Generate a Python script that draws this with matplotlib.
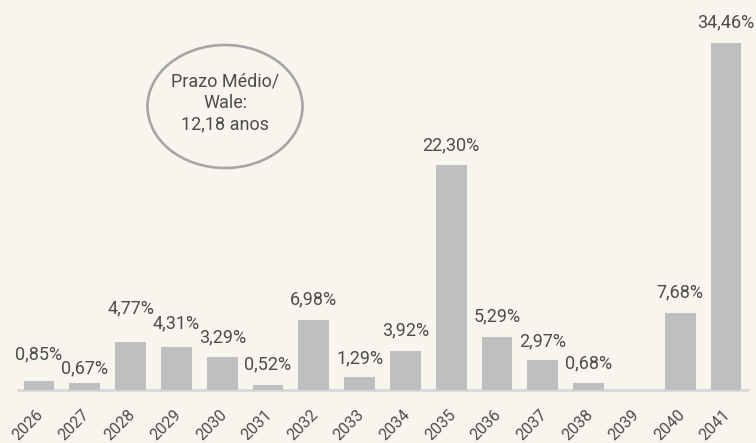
import matplotlib.pyplot as plt
from matplotlib.patches import Ellipse

# dados do gráfico
anos = ["2026", "2027", "2028", "2029", "2030", "2031", "2032", "2033",
        "2034", "2035", "2036", "2037", "2038", "2039", "2040", "2041"]
percentuais = [0.85, 0.67, 4.77, 4.31, 3.29, 0.52, 6.98, 1.29,
               3.92, 22.30, 5.29, 2.97, 0.68, 0.0, 7.68, 34.46]
texto_wale = "Prazo Médio/\nWale:\n12,18 anos"

# distância (px) entre o topo da barra e a linha de base do rótulo
afastamento = [22, 10, 29, 18, 14, 15, 15, 14, 15, 15, 15, 14, 15, 15, 15, 15]

fundo = "#F8F4EE"
cor_barra = "#BFBFBF"
cor_texto = "#4D4D4D"

plt.rcParams['font.family'] = ['Roboto', 'DejaVu Sans']

fig = plt.figure(figsize=(7.56, 4.43), dpi=100, facecolor=fundo)
ax = fig.add_axes([0, 53 / 443, 1, 390 / 443])
ax.set_facecolor(fundo)

x = list(range(len(anos)))
ax.bar(x, percentuais, width=0.67, color=cor_barra, zorder=2)

# linha de base
ax.plot([-0.47, 15.5], [0, 0], color="#D9D9D9", lw=2, zorder=1,
        solid_capstyle="butt", clip_on=False)

px = 0.72  # 1 px em pontos (dpi 100)

# rótulos de valor
for i, v in enumerate(percentuais):
    if v == 0:
        continue
    rotulo = f"{v:.2f}".replace(".", ",") + "%"
    ax.annotate(rotulo, (i, v), xytext=(0, afastamento[i] * px),
                textcoords="offset points", ha="center", va="baseline",
                fontsize=13, color=cor_texto)

# anos na diagonal
for i, ano in enumerate(anos):
    ax.annotate(ano, (i, 0), xytext=(2 * px, -22 * px),
                textcoords="offset points", ha="right", va="center",
                rotation=45, rotation_mode="anchor",
                fontsize=11.5, color=cor_texto, annotation_clip=False)

ax.set_xlim(-39 / 45.8, 15 + (756 - 726) / 45.8)
ax.set_ylim(0, 390 / 10.075)
ax.axis("off")

# balão com o prazo médio
ax.add_patch(Ellipse((186 / 45.8, (443 - 106.5 - 53) / 10.075),
                     width=155 / 45.8, height=123 / 10.075,
                     facecolor="none", edgecolor="#A6A6A6", lw=1.9,
                     zorder=3))
ax.text(186 / 45.8, (443 - 103 - 53) / 10.075, texto_wale,
        ha="center", va="center", fontsize=13, color=cor_texto,
        linespacing=1.25)

fig.savefig("out.png", dpi=100, facecolor=fundo)
